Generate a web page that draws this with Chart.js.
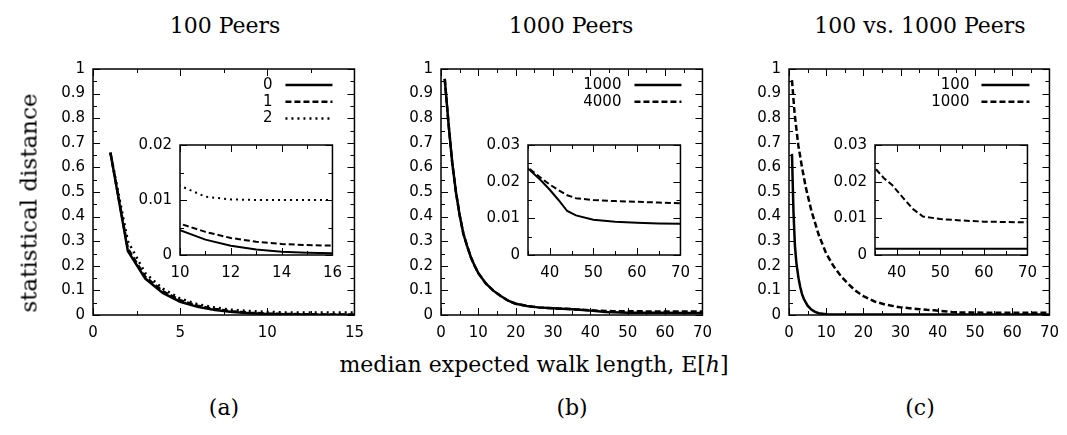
<!DOCTYPE html>
<html>
<head>
<meta charset="utf-8">
<script src="https://cdn.jsdelivr.net/npm/chart.js@4.4.1/dist/chart.umd.min.js"></script>
<style>
body { margin: 0; background: #fff; }
#fig { position: relative; width: 1067px; height: 435px; overflow: hidden; background: #fff; }
#fig canvas { position: absolute; }
.txt { position: absolute; font-family: 'DejaVu Serif', serif; font-size: 22px; line-height: 22px; color: #000; white-space: nowrap; transform: translateX(-50%); }
.ylab { position: absolute; left: 29px; top: 203px; font-family: 'DejaVu Serif', serif; font-size: 23px; line-height: 23px; white-space: nowrap; transform: translate(-50%, -50%) rotate(-90deg); }
</style>
</head>
<body>
<div id="fig">
  <canvas id="mainA"></canvas>
  <canvas id="mainB"></canvas>
  <canvas id="mainC"></canvas>
  <canvas id="insetA"></canvas>
  <canvas id="insetB"></canvas>
  <canvas id="insetC"></canvas>
  <div class="txt" style="left:225px; top:15px">100 Peers</div>
  <div class="txt" style="left:571px; top:15px">1000 Peers</div>
  <div class="txt" style="left:920px; top:15px">100 vs. 1000 Peers</div>
  <div class="ylab">statistical distance</div>
  <div class="txt" style="left:534px; top:354px">median expected walk length, E[<i>h</i>]</div>
  <div class="txt" style="left:224px; top:397px">(a)</div>
  <div class="txt" style="left:572px; top:397px">(b)</div>
  <div class="txt" style="left:920px; top:397px">(c)</div>
</div>
<script>
// panel (a): 100 peers, curves for 0 / 1 / 2
const aX = [1, 2, 3, 4, 5, 6, 7, 8, 9, 10, 11, 12, 13, 14, 15, 16];
const a0 = [0.66, 0.26, 0.148, 0.09, 0.054, 0.033, 0.02, 0.012, 0.0075, 0.0045, 0.0028, 0.0017, 0.001, 0.0006, 0.0004, 0.0003];
const a1 = [0.66, 0.27, 0.155, 0.097, 0.06, 0.038, 0.024, 0.015, 0.0095, 0.0057, 0.0042, 0.0031, 0.0024, 0.002, 0.0018, 0.0017];
const a2 = [0.66, 0.30, 0.17, 0.107, 0.067, 0.044, 0.03, 0.021, 0.016, 0.0126, 0.0106, 0.0101, 0.01, 0.01, 0.01, 0.01];

// panel (b): 1000 peers, 1000 vs 4000
const bX = [1, 2, 3, 4, 5, 6, 7, 8, 9, 10, 12, 14, 16, 18, 20, 23, 26, 30, 35, 38, 40, 42, 44, 46, 50, 55, 60, 65, 70];
const b1000 = [0.96, 0.78, 0.62, 0.50, 0.405, 0.33, 0.28, 0.235, 0.20, 0.17, 0.128, 0.099, 0.077, 0.058, 0.046, 0.037, 0.031, 0.027, 0.0236, 0.0203, 0.0178, 0.015, 0.012, 0.0108, 0.0096, 0.0091, 0.0088, 0.0086, 0.0085];
const b4000 = [0.96, 0.78, 0.62, 0.50, 0.405, 0.33, 0.28, 0.235, 0.20, 0.17, 0.128, 0.099, 0.077, 0.058, 0.046, 0.037, 0.031, 0.027, 0.0238, 0.021, 0.0192, 0.0177, 0.0163, 0.0155, 0.015, 0.0147, 0.0145, 0.0143, 0.0141];

// panel (c): 100 vs 1000 peers
const c100X = [0.8, 1.2, 1.6, 2, 2.5, 3, 3.5, 4, 5, 6, 7, 8, 10, 12, 15, 20, 70];
const c100 = [0.655, 0.42, 0.28, 0.21, 0.155, 0.115, 0.085, 0.065, 0.038, 0.022, 0.013, 0.007, 0.003, 0.002, 0.0017, 0.0017, 0.0017];
const c1000X = [0.8, 1.5, 2.5, 3.5, 4.5, 6, 8, 10, 12, 14, 16, 18, 20, 23, 26, 30, 35, 37, 39, 41.5, 43.75, 46, 50, 55, 60, 65, 70];
const c1000 = [0.955, 0.82, 0.69, 0.60, 0.52, 0.425, 0.325, 0.25, 0.198, 0.157, 0.125, 0.097, 0.077, 0.055, 0.042, 0.031, 0.0237, 0.021, 0.019, 0.0155, 0.0125, 0.0105, 0.0098, 0.0094, 0.0091, 0.009, 0.0089];

// tick labels
const mainYTicks = [0, 0.1, 0.2, 0.3, 0.4, 0.5, 0.6, 0.7, 0.8, 0.9, 1];
const aXTicks = [0, 5, 10, 15];
const bcXTicks = [0, 10, 20, 30, 40, 50, 60, 70];
const aInsetXTicks = [10, 12, 14, 16];
const aInsetYTicks = [0, 0.01, 0.02];
const bcInsetXTicks = [40, 50, 60, 70];
const bcInsetYTicks = [0, 0.01, 0.02, 0.03];

Chart.defaults.font.family = 'DejaVu Sans';
Chart.defaults.font.size = 15;
Chart.defaults.color = '#000';

const SOLID = [], DASHED = [6, 3], DOTTED = [2, 4];

// gnuplot-like frame with inward ticks on all four sides
const gnuTicks = {
  id: 'gnuTicks',
  afterDatasetsDraw(chart, args, o) {
    const { ctx, chartArea: a, scales: { x, y } } = chart;
    const isMajor = (s, v) => s.ticks.some(t => Math.abs(t.value - v) < 1e-9);
    ctx.save();
    ctx.strokeStyle = '#000';
    ctx.lineWidth = 1;
    ctx.beginPath();
    for (let i = 0; ; i++) {
      const v = x.min + i * o.xStep;
      if (v > x.max + 1e-9) break;
      const px = Math.round(x.getPixelForValue(v)) + 0.5;
      const len = isMajor(x, v) ? o.major : o.minor;
      ctx.moveTo(px, a.bottom); ctx.lineTo(px, a.bottom - len);
      ctx.moveTo(px, a.top); ctx.lineTo(px, a.top + len);
    }
    for (let i = 0; ; i++) {
      const v = y.min + i * o.yStep;
      if (v > y.max + 1e-9) break;
      const py = Math.round(y.getPixelForValue(v)) + 0.5;
      const len = isMajor(y, v) ? o.major : o.minor;
      ctx.moveTo(a.left, py); ctx.lineTo(a.left + len, py);
      ctx.moveTo(a.right, py); ctx.lineTo(a.right - len, py);
    }
    ctx.stroke();
    ctx.lineWidth = 1.5;
    ctx.strokeRect(a.left, a.top, a.right - a.left, a.bottom - a.top);
    ctx.restore();
  }
};

// key in the gnuplot style: label, then a sample of the line
const keyBox = {
  id: 'keyBox',
  afterDatasetsDraw(chart, args, o) {
    const { ctx, chartArea: a } = chart;
    chart.data.datasets.forEach((ds, i) => {
      const yy = a.top + o.top + i * o.row;
      const x1 = a.right - o.right, x0 = x1 - o.len;
      ctx.save();
      ctx.fillStyle = '#000';
      ctx.font = '15px "DejaVu Sans"';
      ctx.textAlign = 'right';
      ctx.textBaseline = 'middle';
      ctx.fillText(ds.label, x0 - o.gap, yy);
      ctx.strokeStyle = '#000';
      ctx.lineWidth = ds.borderWidth;
      ctx.setLineDash(ds.borderDash);
      ctx.beginPath();
      ctx.moveTo(x0, yy);
      ctx.lineTo(x1, yy);
      ctx.stroke();
      ctx.restore();
    });
  }
};

const PAD = { l: 62, t: 14, r: 18, b: 34 };

function place(id, area) {
  const c = document.getElementById(id);
  c.width = area.r - area.l + PAD.l + PAD.r;
  c.height = area.b - area.t + PAD.t + PAD.b;
  c.style.left = (area.l - PAD.l) + 'px';
  c.style.top = (area.t - PAD.t) + 'px';
  return c;
}

function series(label, xs, ys, dash, width) {
  return {
    label: label,
    data: xs.map((x, i) => ({ x: x, y: ys[i] })),
    borderColor: '#000',
    borderWidth: width,
    borderDash: dash,
    pointRadius: 0,
    tension: 0,
    fill: false
  };
}

const fmt = v => String(+v.toFixed(4));

function draw(id, area, datasets, sx, sy, key) {
  const c = place(id, area);
  new Chart(c.getContext('2d'), {
    type: 'line',
    data: { datasets: datasets },
    options: {
      responsive: false,
      animation: false,
      layout: { padding: { top: PAD.t, right: PAD.r, bottom: 2, left: 0 } },
      scales: {
        x: {
          type: 'linear', min: sx.min, max: sx.max,
          afterBuildTicks: s => { s.ticks = sx.ticks.map(v => ({ value: v })); },
          ticks: { padding: 9, maxRotation: 0, autoSkip: false, callback: fmt },
          grid: { display: false, drawTicks: false },
          border: { display: false },
          afterFit: s => { s.height = PAD.b - 2; }
        },
        y: {
          type: 'linear', min: sy.min, max: sy.max,
          afterBuildTicks: s => { s.ticks = sy.ticks.map(v => ({ value: v })); },
          ticks: { padding: 8, autoSkip: false, callback: fmt },
          grid: { display: false, drawTicks: false },
          border: { display: false },
          afterFit: s => { s.width = PAD.l; }
        }
      },
      plugins: {
        legend: { display: false },
        tooltip: { enabled: false },
        gnuTicks: { xStep: sx.minor, yStep: sy.minor, major: 7, minor: 4 },
        keyBox: key || false
      }
    },
    plugins: key ? [gnuTicks, keyBox] : [gnuTicks]
  });
}

const mainY = { min: 0, max: 1, ticks: mainYTicks, minor: 0.05 };

draw('mainA', { l: 93, t: 66, r: 355, b: 315 }, [
  series('0', aX, a0, SOLID, 2.5),
  series('1', aX, a1, DASHED, 2.5),
  series('2', aX, a2, DOTTED, 2.5)
], { min: 0, max: 15, ticks: aXTicks, minor: 2.5 }, mainY, { top: 16, row: 16.7, right: 22, len: 47, gap: 13 });

draw('mainB', { l: 441, t: 66, r: 703, b: 315 }, [
  series('1000', bX, b1000, SOLID, 2.5),
  series('4000', bX, b4000, DASHED, 2.5)
], { min: 0, max: 70, ticks: bcXTicks, minor: 5 }, mainY, { top: 16, row: 16.7, right: 21, len: 47, gap: 13 });

draw('mainC', { l: 789, t: 66, r: 1050, b: 315 }, [
  series('100', c100X, c100, SOLID, 2.5),
  series('1000', c1000X, c1000, DASHED, 2.5)
], { min: 0, max: 70, ticks: bcXTicks, minor: 5 }, mainY, { top: 16, row: 16.7, right: 20, len: 48, gap: 12 });

draw('insetA', { l: 180, t: 142, r: 333, b: 255 }, [
  series('0', aX, a0, SOLID, 2),
  series('1', aX, a1, DASHED, 2),
  series('2', aX, a2, DOTTED, 2)
], { min: 10, max: 16, ticks: aInsetXTicks, minor: 1 }, { min: 0, max: 0.02, ticks: aInsetYTicks, minor: 0.005 });

draw('insetB', { l: 528, t: 142, r: 681, b: 255 }, [
  series('1000', bX, b1000, SOLID, 2),
  series('4000', bX, b4000, DASHED, 2)
], { min: 35, max: 70, ticks: bcInsetXTicks, minor: 5 }, { min: 0, max: 0.03, ticks: bcInsetYTicks, minor: 0.005 });

draw('insetC', { l: 875, t: 142, r: 1028, b: 255 }, [
  series('100', c100X, c100, SOLID, 2),
  series('1000', c1000X, c1000, DASHED, 2)
], { min: 35, max: 70, ticks: bcInsetXTicks, minor: 5 }, { min: 0, max: 0.03, ticks: bcInsetYTicks, minor: 0.005 });
</script>
</body>
</html>
